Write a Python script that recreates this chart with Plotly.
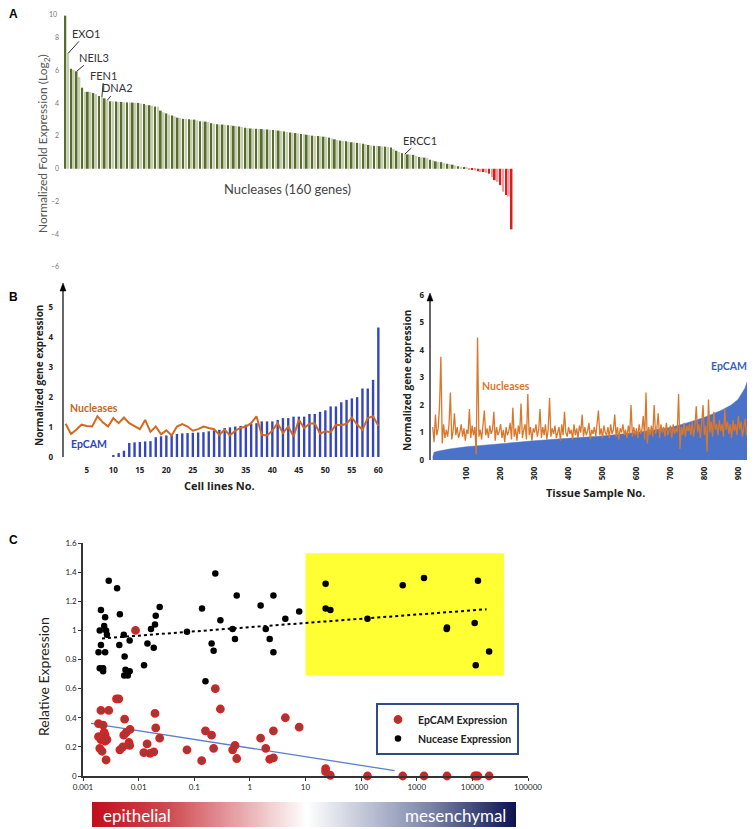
import plotly.graph_objects as go

# ---------------- DATA ----------------
# Panel A: nuclease fold expression (log2), 160 genes sorted
a_up = [9.35, 7.05, 6.1, 6.05, 5.95, 5.6, 4.95, 4.7, 4.7, 4.68,
        4.62, 4.55, 4.45, 4.38, 4.3, 4.2, 4.12,
        4.1, 4.1, 4.08, 4.08, 4.05, 4.05, 4.05, 4.04, 4.03, 4.02,
        3.98, 3.95, 3.9, 3.88, 3.85, 3.8, 3.78,
        3.55, 3.45, 3.38, 3.3, 3.25, 3.2, 3.12,
        3.1, 3.05, 3.05, 3.02, 3.0, 3.0, 2.95, 2.9, 2.9, 2.88,
        2.85, 2.78, 2.75, 2.72, 2.7, 2.7, 2.68, 2.66, 2.65, 2.62,
        2.6, 2.58, 2.55, 2.5, 2.48, 2.46, 2.45, 2.44, 2.43, 2.42,
        2.4, 2.4, 2.38, 2.36, 2.35, 2.33, 2.3, 2.28, 2.25, 2.22,
        2.2, 2.18, 2.15, 2.12, 2.1, 2.08, 2.05, 2.02, 2.0, 2.0,
        1.98, 1.96, 1.95, 1.9, 1.85, 1.8, 1.75, 1.72, 1.7, 1.68,
        1.65, 1.62, 1.6, 1.58, 1.55, 1.52, 1.5, 1.45, 1.42, 1.4,
        1.4, 1.38, 1.36, 1.35, 1.33, 1.3, 1.2, 1.1, 1.02, 0.95,
        0.9, 0.88, 0.86, 0.85, 0.8, 0.72, 0.7, 0.68, 0.65, 0.55,
        0.5, 0.45, 0.42, 0.4, 0.35, 0.3, 0.28, 0.25, 0.2, 0.15, 0.12, 0.08, 0.05]
a_down = [-0.05, -0.08, -0.1, -0.15, -0.2, -0.2, -0.25, -0.3,
          -0.5, -0.7, -0.8, -1.0, -1.4, -1.6, -1.7, -3.7]
a_labels = ["EXO1", "NEIL3", "FEN1", "DNA2", "ERCC1"]
a_label_idx = [1, 4, 13, 15, 121]
a_yticks = [-6, -4, -2, 0, 2, 4, 6, 8]
a_top_tick = "10"

# Panel B (left): 60 cell lines
cell_no = list(range(1, 61))
epcam_cells = [0, 0, 0, 0, 0, 0, 0, 0, 0, 0.04,
               0.13, 0.21, 0.47, 0.49, 0.5, 0.52, 0.53, 0.66, 0.69, 0.72,
               0.74, 0.77, 0.79, 0.8, 0.81, 0.82, 0.83, 0.86, 0.89, 0.91,
               0.97, 0.99, 1.02, 1.04, 1.08, 1.11, 1.13, 1.19, 1.19, 1.19,
               1.24, 1.3, 1.3, 1.35, 1.35, 1.35, 1.44, 1.44, 1.51, 1.56,
               1.69, 1.69, 1.83, 1.91, 1.96, 2.0, 2.29, 2.29, 2.58, 4.33]
nuc_cells = [1.11, 0.77, 0.91, 1.08, 1.04, 1.02, 1.36, 1.16, 1.02, 1.3,
             1.13, 1.32, 1.13, 1.02, 0.93, 1.24, 0.84, 1.02, 0.76, 0.89,
             0.72, 1.02, 1.1, 1.02, 0.88, 0.93, 1.02, 0.97, 0.93, 0.74,
             0.91, 0.72, 0.88, 0.97, 1.02, 1.13, 1.36, 0.74, 0.72, 0.88,
             1.13, 0.8, 1.02, 0.69, 1.24, 0.97, 1.11, 1.13, 0.78, 0.86,
             0.83, 1.08, 1.06, 1.11, 1.32, 1.08, 0.91, 1.3, 1.36, 1.04]

# Panel B (right): tissue samples
epcam_tissue_x = [1, 5, 20, 50, 100, 200, 300, 400, 500, 600, 650, 700,
                  750, 800, 850, 880, 900, 920, 930, 937, 940, 942]
epcam_tissue_y = [0.1, 0.28, 0.33, 0.4, 0.48, 0.6, 0.7, 0.79, 0.87, 1.0, 1.08, 1.18,
                  1.35, 1.55, 1.8, 2.0, 2.2, 2.6, 2.95, 3.5, 3.9, 5.7]
nuc_tissue = [1.2, 0.65, 1.65, 0.9, 1.15, 1.95, 3.75, 0.6, 1.3, 0.8,
              1.1, 0.85, 1.3, 2.45, 0.75, 1.05, 1.7, 0.9, 1.2, 0.8,
              1.0, 1.3, 0.85, 1.15, 0.7, 1.1, 0.95, 1.85, 0.8, 1.25,
              0.9, 1.2, 0.2, 4.45, 0.85, 1.1, 0.75, 1.3, 1.8, 0.9,
              1.15, 0.8, 1.25, 0.95, 1.1, 1.75, 0.7, 1.2, 0.9, 1.05,
              1.3, 0.8, 1.1, 0.65, 1.2, 0.9, 1.05, 1.35, 0.75, 1.9,
              0.85, 1.15, 0.7, 1.25, 0.95, 2.05, 0.8, 1.1, 1.3, 0.75,
              2.4, 0.9, 1.2, 0.7, 1.15, 1.0, 1.3, 0.85, 1.1, 1.85,
              0.8, 1.2, 0.9, 1.3, 0.75, 1.1, 2.25, 0.85, 1.15, 0.95,
              1.25, 0.8, 1.05, 1.2, 0.7, 1.3, 0.9, 1.75, 1.0, 0.85,
              1.2, 0.95, 1.1, 0.75, 1.3, 0.9, 1.15, 0.8, 1.25, 1.0,
              1.65, 0.85, 1.2, 0.9, 1.05, 1.35, 0.75, 1.1, 0.95, 1.2,
              0.85, 1.3, 1.8, 0.9, 1.15, 0.8, 1.25, 1.0, 0.9, 1.2,
              0.8, 1.3, 0.95, 1.1, 1.65, 0.85, 1.2, 0.75, 1.15, 1.0,
              1.3, 0.9, 1.1, 0.8, 1.25, 0.95, 2.0, 0.85, 1.2, 0.9,
              1.15, 0.8, 1.3, 0.95, 1.1, 1.6, 0.75, 2.45, 0.6, 1.2,
              0.9, 1.25, 0.85, 2.0, 0.95, 1.15, 1.7, 0.8, 1.3, 1.0,
              1.2, 0.85, 1.35, 0.9, 1.1, 1.25, 0.8, 1.3, 0.95, 1.15,
              1.0, 2.4, 0.4, 1.2, 0.9, 1.35, 0.85, 1.25, 1.05, 1.3,
              0.9, 1.4, 0.85, 1.2, 1.95, 1.0, 1.3, 0.8, 1.35, 2.0,
              0.9, 1.25, 0.3, 2.2, 1.0, 1.4, 0.85, 1.75, 1.1, 1.3,
              0.9, 1.45, 1.05, 1.3, 0.85, 1.85, 1.1, 1.4, 0.95, 1.3,
              0.8, 1.45, 1.05, 1.3, 0.9, 1.6, 1.1, 1.4, 0.85, 1.25,
              1.5, 0.9, 1.35, 1.1, 1.2]
tissue_no = [1 + 4 * i for i in range(len(nuc_tissue))]

# Panel C: scatter vs mesenchymal score (log x)
nuc_x = [0.002, 0.0019, 0.0021, 0.002, 0.0021, 0.0023, 0.0023, 0.0024, 0.0025, 0.0025,
         0.0026, 0.0027, 0.0029, 0.0041, 0.0046, 0.0045, 0.0054, 0.0056, 0.0058, 0.0055,
         0.0064, 0.0069, 0.0069, 0.0088, 0.0125, 0.0144, 0.0167, 0.0187, 0.0197, 0.0203,
         0.0239, 0.074, 0.138, 0.159, 0.205, 0.223, 0.239, 0.295, 0.49, 0.54,
         0.58, 1.56, 1.93, 2.27, 2.65, 2.65, 4.34, 7.7, 23, 23,
         28, 130, 560, 1350, 12600, 3500, 3450, 11000, 20000, 11500]
nuc_y = [0.74, 0.85, 0.9, 1.0, 1.14, 0.74, 0.72, 1.03, 1.09, 0.85,
         1.0, 0.97, 1.34, 1.29, 1.11, 0.9, 0.97, 0.82, 0.73, 0.69,
         0.69, 0.72, 0.93, 1.0, 0.76, 0.91, 1.01, 0.88, 1.04, 1.1,
         1.16, 0.99, 1.15, 0.65, 0.91, 0.86, 1.39, 1.07, 1.01, 0.94,
         1.24, 1.17, 1.01, 0.94, 0.85, 1.24, 1.08, 1.13, 1.32, 1.15,
         1.14, 1.08, 1.31, 1.36, 1.34, 1.02, 1.01, 1.05, 0.855, 0.76]
ep_x = [0.0019, 0.0019, 0.0021, 0.002, 0.0022, 0.0021, 0.0023, 0.0024, 0.0025, 0.0025,
        0.0027, 0.0026, 0.0029, 0.004, 0.0044, 0.0046, 0.0052, 0.0056, 0.0054, 0.006,
        0.0067, 0.0069, 0.007, 0.0088, 0.0124, 0.0142, 0.016, 0.0187, 0.0197, 0.0203,
        0.0239, 0.074, 0.136, 0.159, 0.205, 0.223, 0.239, 0.295, 0.49, 0.54,
        0.58, 1.56, 1.93, 2.27, 2.65, 2.65, 4.34, 7.7, 23, 23,
        28, 130, 560, 1350, 3500, 11000, 11800, 12600, 20000]
ep_y = [0.36, 0.27, 0.45, 0.19, 0.17, 0.25, 0.35, 0.3, 0.28, 0.24,
        0.25, 0.11, 0.45, 0.53, 0.53, 0.18, 0.2, 0.39, 0.28, 0.3,
        0.23, 0.21, 0.32, 1.0, 0.16, 0.22, 0.155, 0.165, 0.43, 0.33,
        0.26, 0.18, 0.105, 0.31, 0.28, 0.19, 0.6, 0.46, 0.18, 0.21,
        0.12, 0.26, 0.19, 0.115, 0.125, 0.31, 0.4, 0.335, 0.05, 0.03,
        0.005, 0.0, 0.0, 0.0, 0.0, 0.0, 0.0, 0.0, 0.0]
nuc_trend_x = [0.0022, 18000]
nuc_trend_y = [0.945, 1.145]
ep_trend_x = [0.0014, 400]
ep_trend_y = [0.362, 0.037]
highlight_x = [10, 37000]
highlight_y = [0.69, 1.53]
c_ticks = [0.001, 0.01, 0.1, 1, 10, 100, 1000, 10000, 100000]
c_ticktext = ["0.001", "0.01", "0.1", "1", "10", "100", "1000", "10000", "100000"]

# ---------------- FIGURE ----------------
# The page body has an 8 px margin, so the figure is drawn 8 px smaller and
# screen pixel positions are converted to paper coordinates with that offset.
OFF = 8
W, H = 755 - OFF, 829 - OFF
def X(p): return (p - OFF) / W
def Y(p): return 1 - (p - OFF) / H

FONT = "Lato"
fig = go.Figure()

# Panel A
a_vals = a_up + a_down
a_idx = list(range(len(a_vals)))
a_colors = []
for i, v in enumerate(a_vals):
    if v >= 0:
        a_colors.append("#5a6b2e" if i % 2 == 0 else "#c3cfae")
    else:
        a_colors.append("#d81e1e" if i % 2 == 1 else "#f09a9a")
fig.add_trace(go.Bar(x=a_idx, y=a_vals, width=0.62, marker=dict(color=a_colors, line=dict(width=0)),
                     xaxis="x", yaxis="y", showlegend=False, hoverinfo="skip"))

# Panel B left
fig.add_trace(go.Bar(x=cell_no, y=epcam_cells, width=0.45, marker=dict(color="#3446b8", line=dict(width=0)),
                     xaxis="x2", yaxis="y2", showlegend=False))
fig.add_trace(go.Scatter(x=cell_no, y=nuc_cells, mode="lines", line=dict(color="#d2691e", width=2),
                         xaxis="x2", yaxis="y2", showlegend=False))

# Panel B right
fig.add_trace(go.Scatter(x=epcam_tissue_x, y=epcam_tissue_y, mode="lines", fill="tozeroy",
                         fillcolor="#4a72c8", line=dict(color="#4a72c8", width=0.5),
                         xaxis="x3", yaxis="y3", showlegend=False))
fig.add_trace(go.Scatter(x=tissue_no, y=nuc_tissue, mode="lines", line=dict(color="#d9782d", width=1.3),
                         xaxis="x3", yaxis="y3", showlegend=False))

# Panel C
fig.add_trace(go.Scatter(x=[highlight_x[0], highlight_x[1], highlight_x[1], highlight_x[0], highlight_x[0]],
                         y=[highlight_y[0], highlight_y[0], highlight_y[1], highlight_y[1], highlight_y[0]],
                         mode="lines", fill="toself", fillcolor="#ffff33", line=dict(width=0),
                         xaxis="x4", yaxis="y4", showlegend=False, hoverinfo="skip"))
fig.add_trace(go.Scatter(x=nuc_trend_x, y=nuc_trend_y, mode="lines", line=dict(color="black", width=2, dash="dot"),
                         xaxis="x4", yaxis="y4", showlegend=False))
fig.add_trace(go.Scatter(x=ep_trend_x, y=ep_trend_y, mode="lines", line=dict(color="#5b7fcc", width=1.3),
                         xaxis="x4", yaxis="y4", showlegend=False))
fig.add_trace(go.Scatter(x=nuc_x, y=nuc_y, mode="markers", name="Nucease Expression",
                         marker=dict(color="black", size=6.5), legendrank=2,
                         xaxis="x4", yaxis="y4", cliponaxis=False))
fig.add_trace(go.Scatter(x=ep_x, y=ep_y, mode="markers", name="EpCAM Expression",
                         marker=dict(color="#8e4040", size=7, line=dict(color="#e01f1f", width=1.8)), legendrank=1,
                         xaxis="x4", yaxis="y4", cliponaxis=False))

# gradient bar
grad = list(range(201))
fig.add_trace(go.Heatmap(z=[grad], colorscale=[[0, "#c20f1b"], [0.18, "#cf4a50"], [0.507, "#ffffff"],
                                                [0.8, "#7a84a8"], [1, "#0d1452"]],
                         showscale=False, xaxis="x5", yaxis="y5", hoverinfo="skip"))

noax = dict(showgrid=False, zeroline=False, showline=False)
tickb = dict(size=8, color="#222", weight="bold", family="Open Sans")
fig.update_layout(
    width=W, height=H, margin=dict(l=0, r=0, t=0, b=0, autoexpand=False),
    paper_bgcolor="white", plot_bgcolor="white",
    font=dict(family=FONT, color="#222"),
    xaxis=dict(domain=[X(64), X(513)], range=[-0.5, 159.5], showticklabels=False, ticks="", anchor="y", **noax),
    yaxis=dict(domain=[Y(267), Y(8)], range=[-6, 10 - 3 / 16.375], tickvals=a_yticks,
               tickfont=dict(size=7, color="#777"), ticks="", anchor="x", ticklabelstandoff=4, **noax),
    xaxis2=dict(domain=[X(63), X(381)], range=[0.5, 60.5], tickvals=list(range(5, 61, 5)), ticks="",
                tickfont=tickb, anchor="y2", ticklabelstandoff=7, **noax),
    yaxis2=dict(domain=[Y(457), Y(285)], range=[0, 5.75], tickvals=[0, 1, 2, 3, 4, 5], ticks="",
                tickfont=tickb, anchor="x2", ticklabelstandoff=9, **noax),
    xaxis3=dict(domain=[X(430), X(755)], range=[-7, 950], tickvals=list(range(100, 901, 100)), ticks="",
                tickangle=-90, tickfont=tickb, anchor="y3", ticklabelstandoff=4, **noax),
    yaxis3=dict(domain=[Y(460), Y(295)], range=[0, 6], tickvals=[0, 1, 2, 3, 4, 5, 6], ticks="",
                tickfont=tickb, anchor="x3", ticklabelstandoff=5, **noax),
    xaxis4=dict(domain=[X(83), X(528)], type="log", range=[-3, 5], tickvals=c_ticks, ticktext=c_ticktext,
                showline=True, linecolor="#333", linewidth=1.5, ticks="outside", ticklen=3, tickcolor="#333",
                tickfont=dict(size=8, color="#222"), showgrid=False, zeroline=False, anchor="y4"),
    yaxis4=dict(domain=[Y(776), Y(543)], range=[0, 1.6], dtick=0.2,
                showline=True, linecolor="#333", linewidth=1.5, ticks="outside", ticklen=3, tickcolor="#333",
                tickfont=dict(size=8, color="#222"), showgrid=False, zeroline=False, anchor="x4"),
    xaxis5=dict(domain=[X(92), X(516)], visible=False, anchor="y5"),
    yaxis5=dict(domain=[Y(827), Y(802)], visible=False, anchor="x5"),
    showlegend=True,
    legend=dict(x=X(376), y=Y(703), xanchor="left", yanchor="top", bgcolor="white",
                bordercolor="#2f4a8a", borderwidth=2, font=dict(size=10.5, color="#222", weight="bold"),
                itemwidth=30, tracegroupgap=0),
)

# axis lines with arrow heads for panel B (drawn as shapes)
shapes = [
    dict(type="line", xref="paper", yref="paper", x0=X(63), x1=X(63), y0=Y(457), y1=Y(289),
         line=dict(color="black", width=1.2)),
    dict(type="path", xref="paper", yref="paper",
         path="M %f %f L %f %f L %f %f Z" % (X(60), Y(291), X(66), Y(291), X(63), Y(283)),
         fillcolor="black", line=dict(color="black", width=0.5)),
    dict(type="line", xref="paper", yref="paper", x0=X(430), x1=X(430), y0=Y(460), y1=Y(299),
         line=dict(color="black", width=1.2)),
    dict(type="path", xref="paper", yref="paper",
         path="M %f %f L %f %f L %f %f Z" % (X(427), Y(301), X(433), Y(301), X(430), Y(293)),
         fillcolor="black", line=dict(color="black", width=0.5)),
]
fig.update_layout(shapes=shapes)

ann = []
# top tick label of panel A (sits at the very top edge of the page)
ann.append(dict(text=a_top_tick, x=X(59), y=1, xref="paper", yref="paper", showarrow=False,
                xanchor="right", yanchor="top", font=dict(size=7, color="#777")))
# panel letters
for t, px, py in [("A", 14, 14), ("B", 14, 297), ("C", 14, 540)]:
    ann.append(dict(text="<b>%s</b>" % t, x=X(px), y=Y(py), xref="paper", yref="paper", showarrow=False,
                    xanchor="center", yanchor="middle",
                    font=dict(size=12, family="Liberation Sans", color="black")))
# panel A labels with leader lines
offsets = [(18, -20), (17, -14), (2, -22), (10, -12), (15, -14)]
for labt, idx, (dx, dy) in zip(a_labels, a_label_idx, offsets):
    ann.append(dict(text=labt, x=idx, y=a_vals[idx], xref="x", yref="y", showarrow=True, arrowhead=0,
                    arrowwidth=1, arrowcolor="#333", ax=dx, ay=dy, font=dict(size=11, color="#333")))

def lab(text, px, py, size, color="#222", angle=0, weight="normal", family=FONT):
    return dict(text=text, x=X(px), y=Y(py), xref="paper", yref="paper", showarrow=False,
                xanchor="center", yanchor="middle", textangle=angle,
                font=dict(size=size, color=color, weight=weight, family=family))

ann += [
    lab("Normalized Fold Expression (Log<sub>2</sub>)", 43, 144, 12, "#555", -90),
    lab("Nucleases (160 genes)", 287, 189, 13, "#444"),
    lab("Normalized gene expression", 39, 376, 10, "#222", -90, "bold", "Open Sans"),
    lab("Cell lines No.", 220, 485, 11, "#222", 0, "bold", "Open Sans"),
    lab("Nucleases", 94, 408, 10.5, "#c8641e", 0, "bold"),
    lab("EpCAM", 89, 444, 10.5, "#2d45c0", 0, "bold"),
    lab("Normalized gene expression", 407, 381, 10, "#222", -90, "bold", "Open Sans"),
    lab("Tissue Sample No.", 595, 492, 11, "#222", 0, "bold", "Open Sans"),
    lab("Nucleases", 506, 386, 10.5, "#d9782d", 0, "bold"),
    lab("EpCAM", 729, 366, 10.5, "#3a62c0", 0, "bold"),
    lab("Relative Expression", 43, 677, 14, "#222", -90),
    lab("epithelial", 137, 815, 17, "white"),
    lab("mesenchymal", 455, 815, 17, "white"),
]
fig.update_layout(annotations=ann)

fig.write_html("out.html")
